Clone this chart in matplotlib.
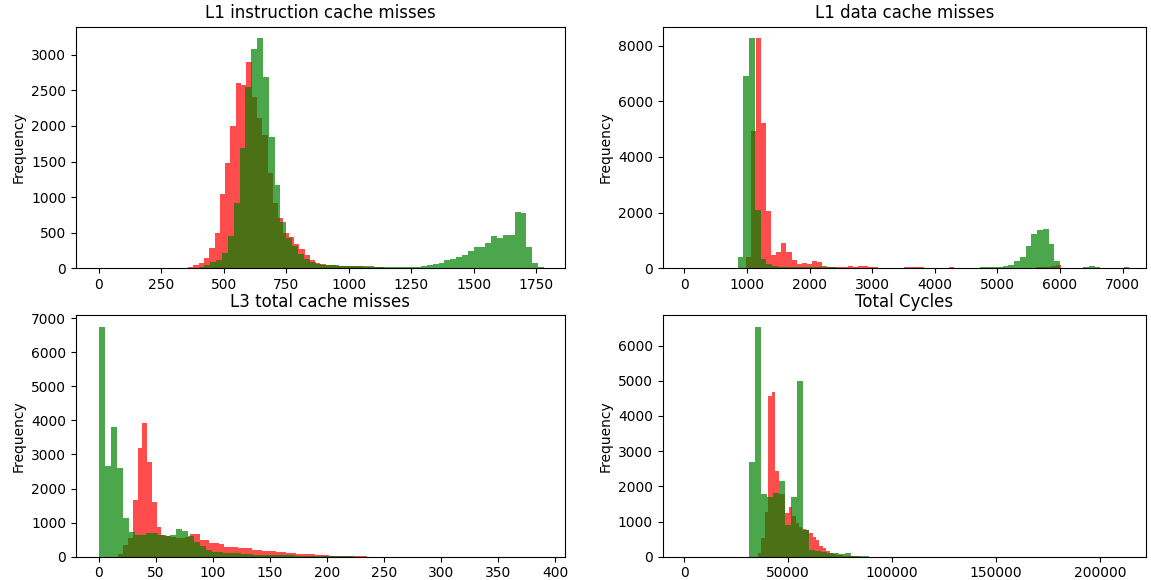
import numpy as np
import matplotlib
matplotlib.use("Agg")
import matplotlib.pyplot as plt

# L1 instruction cache misses
l1i_red_range = (357, 1205)
l1i_red_counts = [19, 47, 70, 140, 290, 500, 1045, 1476, 2006, 2610,
                  2578, 2906, 2413, 2109, 1874, 1335, 913, 703, 500, 436,
                  342, 267, 180, 117, 80, 56, 42, 42, 38, 35,
                  32, 30, 28, 25, 22, 20, 15, 10, 8, 5]
l1i_green_range = (0, 1782)
l1i_green_counts = [10, 0, 0, 0, 0, 0, 0, 0, 0, 0, 0, 0, 0, 0, 0, 0,
                    5, 15, 40, 84, 117, 220, 454, 913, 1687, 2545, 3083, 3234,
                    2685, 1842, 1176, 655, 422, 310, 200, 130, 90, 65, 50,
                    48, 40, 35, 32, 30, 28, 30, 26, 25, 22, 20, 22, 24, 22, 20, 25, 35,
                    46, 55, 79, 117, 131, 155, 187, 243, 304, 304, 360, 454, 421,
                    468, 468, 796, 773, 304, 70, 14]

# L1 data cache misses
l1d_red_range = (980, 6020.6)
l1d_red_counts = [397, 4938, 8268, 5226, 2054, 482, 577, 915, 577, 303, 159, 192, 159, 277, 216, 97, 60,
                  50, 40, 35, 72, 40, 72, 72, 40, 30, 25, 25, 20, 20, 20,
                  30, 30, 30, 30, 20, 15, 15, 10, 25, 30, 25, 10, 10, 10,
                  10, 10, 8, 8, 10, 10, 12, 15, 15, 20, 20,
                  25, 30, 40, 60, 100, 122]
l1d_green_range = (850, 7106)
l1d_green_counts = [422, 6909, 8268, 2105, 339, 159, 80, 60, 50, 60, 40, 45, 60, 50, 40, 30, 30, 25, 25, 20,
                    20, 18, 20, 15, 15, 18, 20, 15, 12, 20, 25, 20, 15, 10, 10, 12, 15, 20, 18, 20,
                    22, 25, 30, 35, 45, 55,
                    72, 133, 278, 422, 793, 1240, 1359, 1395, 879, 278, 25, 20, 20, 25, 30, 72,
                    30, 25, 20, 10, 5, 60]

# L3 total cache misses
l3_red_range = (17, 273.2)
l3_red_counts = [80, 344, 540, 1665, 3183, 3917, 2772, 1607, 881, 646,
                 597, 590, 548, 540, 587, 656, 656, 490, 490, 411,
                 411, 380, 294, 274, 274, 245, 264, 245, 196, 196,
                 176, 176, 160, 127, 127, 98, 98, 78, 78, 70,
                 65, 60, 49, 40, 29, 29, 25, 20, 20, 10,
                 8, 20, 5, 3, 3, 2, 2, 1, 1, 1, 0]
l3_green_range = (0, 260)
l3_green_counts = [6755, 2664, 3818, 2596, 1128, 734, 640, 650, 690, 690,
                   640, 610, 640, 804, 764, 600, 430, 300, 200, 150,
                   128, 120, 100, 95, 80, 75, 60, 55, 50, 40,
                   40, 35, 35, 30, 30, 28, 25, 25, 20, 20,
                   15, 12, 10, 5, 3, 2, 1, 1, 0, 1]

# Total cycles
cyc_red_range = (35500, 86340)
cyc_red_counts = [95, 521, 1280, 4570, 4693, 2446, 1790, 1790, 1232, 1403,
                  1150, 950, 850, 800, 750, 665, 560, 480, 300, 240,
                  170, 110, 80, 55, 40, 30, 20, 15, 10, 8, 5]
cyc_green_range = (31200, 88800)
cyc_green_counts = [2702, 6541, 1782, 1687, 1800, 2152, 900, 1706, 4996, 758,
                    190, 170, 142, 95, 95, 76, 95, 28, 28, 10]

titles = ["L1 instruction cache misses", "L1 data cache misses",
          "L3 total cache misses", "Total Cycles"]

panels = [
    (l1i_red_range, l1i_red_counts, l1i_green_range, l1i_green_counts, (-92, 1866)),
    (l1d_red_range, l1d_red_counts, l1d_green_range, l1d_green_counts, (-345, 7370)),
    (l3_red_range, l3_red_counts, l3_green_range, l3_green_counts, (-20.2, 408.8)),
    (cyc_red_range, cyc_red_counts, cyc_green_range, cyc_green_counts, (-10392, 222130)),
]

# axes boxes in figure fractions (left, bottom, width, height)
boxes = [
    (0.066, 0.5374, 0.4249, 0.4166),
    (0.5758, 0.5374, 0.4197, 0.4166),
    (0.066, 0.0402, 0.4249, 0.4166),
    (0.5758, 0.0402, 0.4197, 0.4166),
]


def draw_hist(ax, rng, counts, color):
    edges = np.linspace(rng[0], rng[1], len(counts) + 1)
    ax.hist(edges[:-1], bins=edges, weights=counts, color=color, alpha=0.7)


fig = plt.figure(figsize=(11.51, 5.8), dpi=100)
for box, title, (rr, rc, gr, gc, xl) in zip(boxes, titles, panels):
    ax = fig.add_axes(box)
    draw_hist(ax, rr, rc, "red")
    draw_hist(ax, gr, gc, "green")
    ax.set_xlim(xl)
    ax.set_title(title, fontsize=12)
    ax.set_ylabel("Frequency", fontsize=10)
    ax.tick_params(labelsize=10)

fig.savefig("out.png", dpi=100)
